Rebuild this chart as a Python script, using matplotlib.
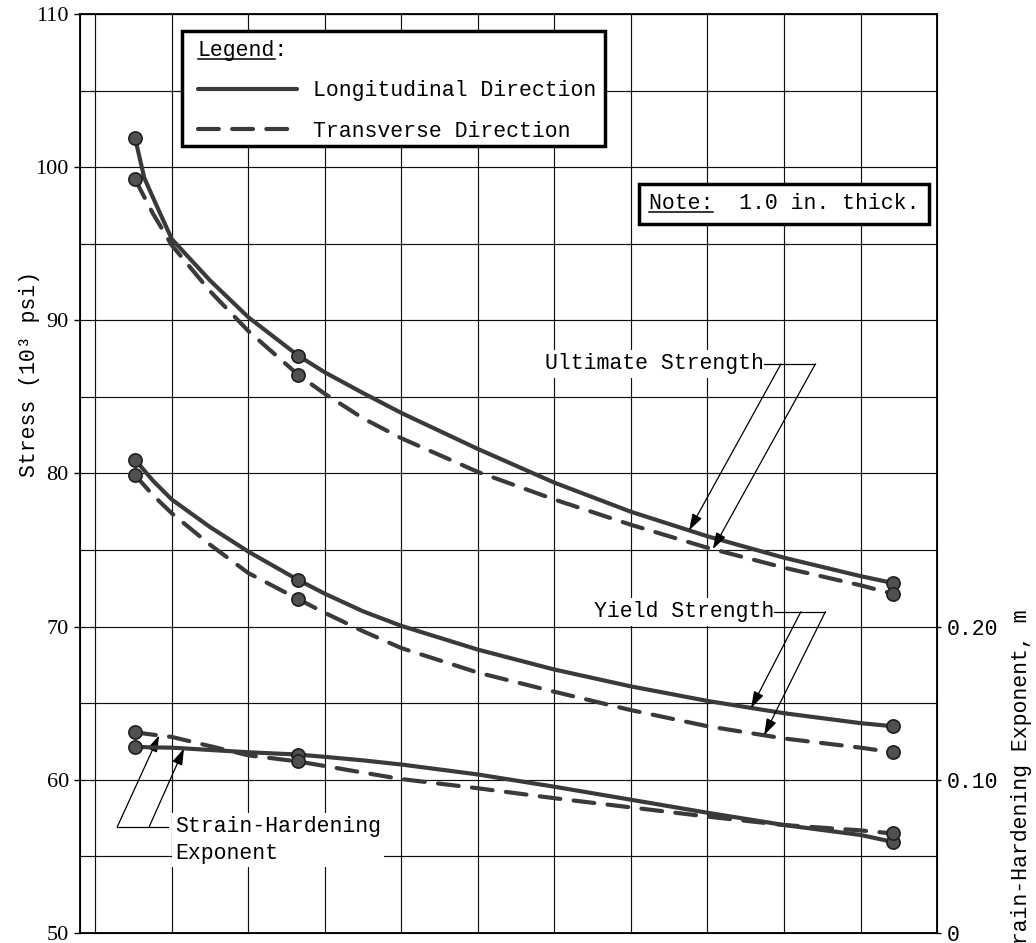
import numpy as np
import matplotlib
matplotlib.use("Agg")
import matplotlib.pyplot as plt
from matplotlib.lines import Line2D
from matplotlib.patches import Rectangle

plt.rcParams['font.family'] = ['Liberation Mono', 'DejaVu Sans']
FS = 15.5

# ---- data (x in grid divisions, stress in ksi, m dimensionless) ----
uts_x_long = [0.52, 0.64, 0.8, 1.0, 1.5, 2.0, 2.65, 3.0, 3.5, 4.0, 5.0, 6.0, 7.0, 8.0, 9.0, 10.0, 10.42]
uts_long = [101.9, 99.3, 97.5, 95.3, 92.6, 90.2, 87.7, 86.6, 85.25, 83.95, 81.6, 79.4, 77.5, 75.9, 74.5, 73.3, 72.85]
curve_x = [0.52, 0.75, 1.0, 1.5, 2.0, 2.65, 3.0, 3.5, 4.0, 5.0, 6.0, 7.0, 8.0, 9.0, 10.0, 10.42]
uts_trans = [99.2, 97.0, 94.9, 91.9, 89.3, 86.45, 85.2, 83.6, 82.3, 80.1, 78.3, 76.65, 75.15, 73.85, 72.7, 72.15]
ys_long = [80.9, 79.55, 78.3, 76.5, 74.9, 73.05, 72.15, 71.0, 70.05, 68.5, 67.2, 66.1, 65.15, 64.35, 63.7, 63.5]
ys_trans = [79.9, 78.6, 77.4, 75.35, 73.5, 71.8, 70.9, 69.7, 68.6, 67.0, 65.75, 64.55, 63.5, 62.7, 62.1, 61.8]
m_long = [0.1215, 0.1212, 0.121, 0.1195, 0.118, 0.1165, 0.115, 0.1127, 0.110, 0.1035, 0.0955, 0.087,
          0.0785, 0.0705, 0.064, 0.0595]
m_trans = [0.131, 0.1295, 0.128, 0.122, 0.116, 0.112, 0.109, 0.1047, 0.1005, 0.0945, 0.088, 0.082,
           0.076, 0.0705, 0.067, 0.065]
test_idx = [0, 5, 15]        # measured points on curve_x
test_idx_uts_long = [0, 6, 16]

stress_ticks = [50, 60, 70, 80, 90, 100, 110]
m_ticks = [0, 0.10, 0.20]
m_ticklabels = ['0', '0.10', '0.20']

INK = '#3a3a3a'
solid = dict(color=INK, lw=3.0, solid_capstyle='round', solid_joinstyle='round', zorder=4)
dashed = dict(color=INK, lw=3.0, ls=(0, (5.0, 3.2)), dash_capstyle='round', zorder=4)
dot = dict(ls='none', marker='o', ms=9.5, mfc='#505050', mec='#1e1e1e', mew=1.2, zorder=5)
arrow = dict(arrowstyle='-|>,head_length=0.5,head_width=0.16', lw=0.9, color='black',
             shrinkA=0, shrinkB=0, mutation_scale=20)

fig = plt.figure(figsize=(10.36, 9.43), dpi=100)
ax = fig.add_axes([0.0772, 0.0106, 0.8273, 0.9746])
ax.set_xlim(-0.2, 11)
ax.set_ylim(50, 110)
ax.set_xticks(range(0, 11))
ax.tick_params(axis='x', length=0, labelbottom=False)
ax.set_yticks(stress_ticks)
ax.set_yticks(range(55, 110, 10), minor=True)
ax.tick_params(axis='y', which='major', length=4, width=1, pad=4)
ax.tick_params(axis='y', which='minor', length=0)
for lab in ax.get_yticklabels():
    lab.set_fontfamily('Liberation Serif')
    lab.set_fontsize(16)
ax.grid(True, which='both', color='#111111', lw=0.85)
for s in ax.spines.values():
    s.set_linewidth(1.3)

ax2 = ax.twinx()
ax2.set_ylim(0, 0.6)
ax2.set_yticks(m_ticks)
ax2.set_yticklabels(m_ticklabels, fontsize=FS)
ax2.tick_params(axis='y', length=3, width=1, pad=4)

# stress curves
l_long, = ax.plot(uts_x_long, uts_long, **solid)
l_trans, = ax.plot(curve_x, uts_trans, **dashed)
ax.plot(curve_x, ys_long, **solid)
ax.plot(curve_x, ys_trans, **dashed)
ax.plot(np.take(uts_x_long, test_idx_uts_long), np.take(uts_long, test_idx_uts_long), **dot)
for ys in (uts_trans, ys_long, ys_trans):
    ax.plot(np.take(curve_x, test_idx), np.take(ys, test_idx), **dot)

# strain-hardening exponent on the right-hand scale
ax2.plot(curve_x, m_long, **solid)
ax2.plot(curve_x, m_trans, **dashed)
for ms in (m_long, m_trans):
    ax2.plot(np.take(curve_x, test_idx), np.take(ms, test_idx), **dot)

# callouts
white = dict(boxstyle='square,pad=0.15', fc='white', ec='none')
ax.text(8.735, 87.15, 'Ultimate Strength', ha='right', va='center', fontsize=FS, bbox=white, zorder=6)
ax.plot([8.74, 9.41], [87.15, 87.15], color='black', lw=0.9, zorder=6)
ax.annotate('', xy=(7.76, np.interp(7.76, uts_x_long, uts_long)), xytext=(8.96, 87.15), arrowprops=arrow, zorder=6)
ax.annotate('', xy=(8.07, np.interp(8.07, curve_x, uts_trans)), xytext=(9.41, 87.15), arrowprops=arrow, zorder=6)

ax.text(8.866, 70.97, 'Yield Strength', ha='right', va='center', fontsize=FS, bbox=white, zorder=6)
ax.plot([8.87, 9.54], [70.97, 70.97], color='black', lw=0.9, zorder=6)
ax.annotate('', xy=(8.57, np.interp(8.57, curve_x, ys_long)), xytext=(9.22, 70.97), arrowprops=arrow, zorder=6)
ax.annotate('', xy=(8.74, np.interp(8.74, curve_x, ys_trans)), xytext=(9.54, 70.97), arrowprops=arrow, zorder=6)

ax.text(1.04, 56.08, 'Strain-Hardening\nExponent', ha='left', va='center', fontsize=FS,
        linespacing=1.35, bbox=white, zorder=6)
ax.plot([0.287, 0.95], [56.93, 56.93], color='black', lw=0.9, zorder=6)
ax.annotate('', xy=(0.834, np.interp(0.834, curve_x, m_trans)), xycoords=ax2.transData,
            xytext=(0.287, 56.93), textcoords=ax.transData, arrowprops=arrow, zorder=6)
ax.annotate('', xy=(1.16, np.interp(1.16, curve_x, m_long)), xycoords=ax2.transData,
            xytext=(0.704, 56.93), textcoords=ax.transData, arrowprops=arrow, zorder=6)

note = ax.text(7.236, 97.6, 'Note:  1.0 in. thick.', ha='left', va='center', fontsize=FS, zorder=7,
               bbox=dict(boxstyle='square,pad=0.45', fc='white', ec='black', lw=2.5))

# legend: framed box drawn separately so the padding can differ per side
ax2.add_patch(Rectangle(((182 - 80) / 857, (933 - 146) / 919), 423 / 857, 115 / 919,
                        transform=ax2.transAxes, fc='white', ec='black', lw=2.5, zorder=4.9))
leg = ax2.legend([l_long, l_trans], ['Longitudinal Direction', 'Transverse Direction'],
                 title='Legend:', loc='upper left', bbox_to_anchor=((198 - 80) / 857, (933 - 40) / 919),
                 prop=dict(family='Liberation Mono', size=FS),
                 title_fontproperties=dict(family='Liberation Mono', size=FS),
                 alignment='left', frameon=False, borderpad=0, borderaxespad=0, handlelength=4.6,
                 handletextpad=0.75, labelspacing=0.9)

fig.text(30 / 1036, 1 - 374 / 943, 'Stress (10³ psi)', rotation=90, ha='center', va='center', fontsize=FS)
fig.text(1022 / 1036, 1 - 610 / 943, 'Strain-Hardening Exponent, m', rotation=90,
         ha='center', va='top', fontsize=FS)

# underline "Legend" and "Note:"
fig.canvas.draw()
inv = fig.transFigure.inverted()
for txt, frac in ((leg.get_title(), 6 / 7), (note, 5 / 21)):
    bb = txt.get_window_extent()
    x0, y0 = inv.transform((bb.x0, bb.y0 + 2))
    x1, _ = inv.transform((bb.x0 + bb.width * frac, bb.y0 + 2))
    fig.add_artist(Line2D([x0, x1], [y0, y0], color='black', lw=1.1, zorder=10))

fig.savefig('out.png', dpi=100)
